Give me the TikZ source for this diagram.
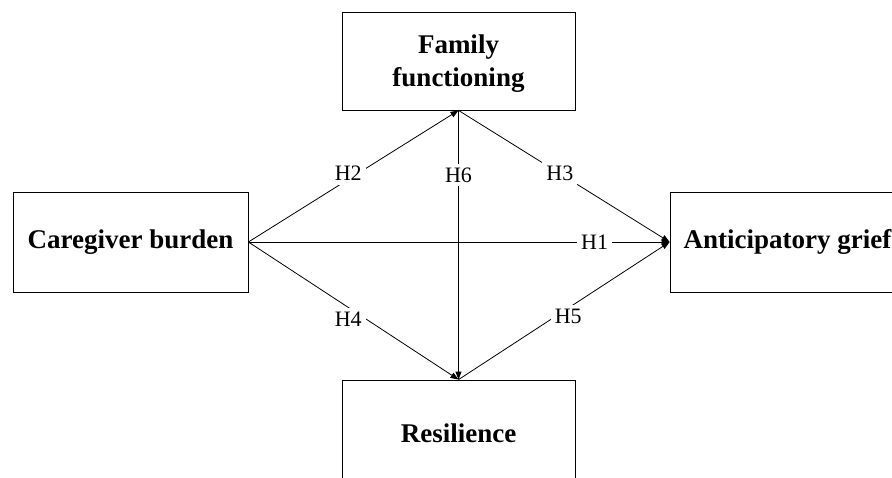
\documentclass[tikz,border=0pt]{standalone}
\usepackage{fontspec}
\setmainfont{Liberation Serif}
\usetikzlibrary{arrows.meta}
\begin{document}
\begin{tikzpicture}[x=1pt,y=-1pt,
  box/.style={draw, line width=0.8pt, align=center, inner sep=0pt,
    font=\fontsize{27}{33}\selectfont\bfseries},
  boxtext/.style={align=center, inner sep=0pt, font=\fontsize{27}{33}\selectfont\bfseries},
  conn/.style={line width=0.8pt},
  arr/.style={conn, -{Triangle[length=8pt,width=6pt]}},
  hlab/.style={fill=white, inner sep=4pt, font=\fontsize{22}{26}\selectfont}]
\useasboundingbox (0,0) rectangle (892,477);
\clip (0,0) rectangle (892,477);
\node[box, minimum width=233pt, minimum height=98pt] (ff) at (458.5,61) {};
\node[boxtext] (fft) at (458.5,64) {Family\\functioning};
\node[box, minimum width=235pt, minimum height=100pt] (cb) at (130.5,242) {Caregiver burden};
\node[box, minimum width=235pt, minimum height=100pt] (ag) at (787.5,242) {Anticipatory grief};
\node[box, minimum width=233pt, minimum height=107pt] (rs) at (458.5,433.5) {Resilience};
\draw[arr] (cb.east) -- node[hlab, pos=0.822] (h1) {H1} (ag.west);
\draw[arr] (cb.east) -- node[hlab, pos=0.475, yshift=6pt] (h2) {H2} (ff.south);
\draw[arr] (ff.south) -- node[hlab, pos=0.48] (h3) {H3} (ag.west);
\draw[arr] (cb.east) -- node[hlab, pos=0.475, yshift=-12pt] (h4) {H4} (rs.north);
\draw[arr] (rs.north) -- node[hlab, pos=0.52, yshift=-8pt] (h5) {H5} (ag.west);
\draw[arr] (ff.south) -- node[hlab, pos=0.24] (h6) {H6} (rs.north);
\end{tikzpicture}
\end{document}
